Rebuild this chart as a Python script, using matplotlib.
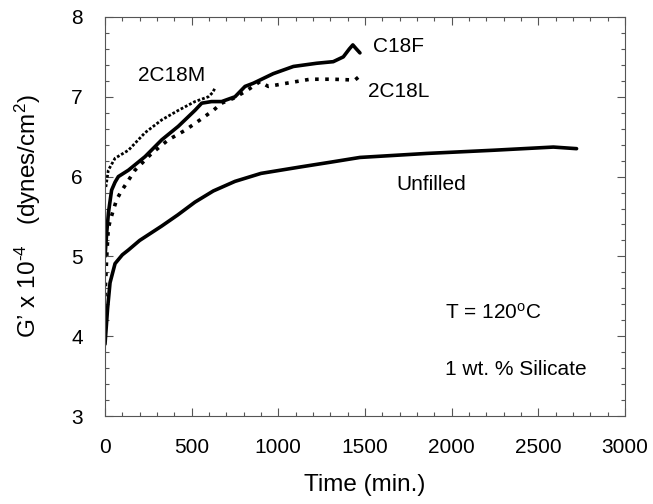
"""G' vs time at 120 C, 1 wt.% silicate — recreated line chart."""

import matplotlib

matplotlib.use("Agg")
import matplotlib.pyplot as plt
from matplotlib.ticker import MultipleLocator

unfilled_t = [0, 15, 29, 58, 100, 135, 200, 327, 420, 519, 625, 750, 900,
              1125, 1300, 1471, 1856, 2240, 2587, 2721]
unfilled_v = [3.9, 4.35, 4.67, 4.91, 5.02, 5.08, 5.2, 5.38, 5.52, 5.68, 5.82,
              5.94, 6.04, 6.12, 6.18, 6.24, 6.29, 6.33, 6.37, 6.35]

c18f_t = [0, 10, 20, 38, 58, 77, 135, 231, 327, 423, 519, 558, 615, 673, 750,
          808, 856, 971, 1087, 1221, 1317, 1375, 1410, 1430, 1450, 1471]
c18f_v = [5.0, 5.3, 5.55, 5.83, 5.93, 6.0, 6.08, 6.25, 6.46, 6.63, 6.83, 6.92,
          6.94, 6.94, 7.0, 7.13, 7.17, 7.29, 7.38, 7.42, 7.44, 7.5, 7.6, 7.65,
          7.6, 7.55]

c18l_t = [0, 10, 19, 30, 48, 67, 92, 125, 173, 269, 365, 462, 548, 625, 673,
          740, 820, 894, 942, 1048, 1183, 1317, 1442, 1487]
c18l_v = [4.5, 5.0, 5.35, 5.45, 5.58, 5.71, 5.81, 5.92, 6.08, 6.29, 6.46, 6.58,
          6.71, 6.83, 6.92, 6.98, 7.08, 7.19, 7.13, 7.17, 7.22, 7.22, 7.21, 7.29]

c18m_t = [5, 19, 58, 135, 231, 327, 423, 519, 596, 620, 635]
c18m_v = [5.87, 6.08, 6.23, 6.33, 6.55, 6.71, 6.83, 6.94, 7.0, 7.05, 7.11]

plt.rcParams["font.family"] = ["Liberation Sans", "DejaVu Sans"]
plt.rcParams["mathtext.fontset"] = "custom"
plt.rcParams["mathtext.rm"] = "Liberation Sans"
plt.rcParams["mathtext.it"] = "Liberation Sans:italic"

fig = plt.figure(figsize=(6.53, 5.04), dpi=100)
ax = fig.add_axes([0.1608, 0.1746, 0.7962, 0.7917])

ax.plot(unfilled_t, unfilled_v, color="black", lw=2.6, solid_capstyle="round")
ax.plot(c18f_t, c18f_v, color="black", lw=2.6, solid_capstyle="round")
ax.plot(c18l_t, c18l_v, color="black", lw=2.6, dashes=(1, 1.8),
        dash_capstyle="butt")
ax.plot(c18m_t, c18m_v, color="black", lw=2.0, dashes=(1, 0.7),
        dash_capstyle="butt")

ax.set_xlim(0, 3000)
ax.set_ylim(3, 8)
ax.xaxis.set_major_locator(MultipleLocator(500))
ax.xaxis.set_minor_locator(MultipleLocator(100))
ax.yaxis.set_major_locator(MultipleLocator(1))
ax.yaxis.set_minor_locator(MultipleLocator(0.2))
ax.tick_params(which="both", direction="in", top=True, right=True,
               color="#555555", width=0.8)
ax.tick_params(which="major", length=6, labelsize=15)
ax.tick_params(axis="x", which="major", pad=16)
ax.tick_params(axis="y", which="major", pad=16)
ax.tick_params(which="minor", length=3)
for sp in ax.spines.values():
    sp.set_color("#555555")
    sp.set_linewidth(0.8)

ax.set_xlabel("Time (min.)", fontsize=17.5, labelpad=12)
ax.set_ylabel("G’ x 10$^{\\text{-4}}$   (dynes/cm$^{2}$)", fontsize=17.5,
              labelpad=20)

ax.text(387, 7.27, "2C18M", fontsize=15, ha="center", va="center")
ax.text(1546, 7.63, "C18F", fontsize=15, ha="left", va="center")
ax.text(1518, 7.06, "2C18L", fontsize=15, ha="left", va="center")
ax.text(1684, 5.9, "Unfilled", fontsize=15, ha="left", va="center")
ax.text(1962, 4.29, "T = 120$^{\\rm o}$C", fontsize=15, ha="left", va="center")
ax.text(1962, 3.58, "1 wt. % Silicate", fontsize=15, ha="left", va="center")

fig.savefig("out.png", dpi=100)
plt.close(fig)
